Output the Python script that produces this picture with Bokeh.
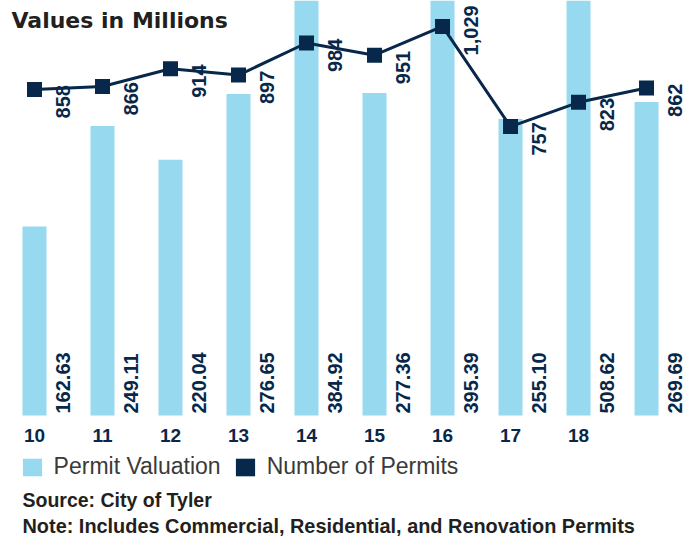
import math
from bokeh.plotting import figure
from bokeh.models import ColumnDataSource, Range1d, Legend, LegendItem, Label
from bokeh.core.properties import value
from bokeh.embed import file_html
from bokeh.resources import INLINE

# ---- data ----
years = [10, 11, 12, 13, 14, 15, 16, 17, 18, 19]
tick_years = [10, 11, 12, 13, 14, 15, 16, 17, 18]
tick_labels = ["10", "11", "12", "13", "14", "15", "16", "17", "18"]
valuation = [162.63, 249.11, 220.04, 276.65, 384.92, 277.36, 395.39, 255.10, 508.62, 269.69]
permits = [858, 866, 914, 897, 984, 951, 1029, 757, 823, 862]

title_text = "Values in Millions"
source_text = "Source: City of Tyler"
note_text = "Note: Includes Commercial, Residential, and Renovation Permits"

NAVY = "#07284a"
BLUE = "#97d9ef"
DARK = "#231f20"

src = ColumnDataSource(dict(
    year=years,
    valuation=valuation,
    permits=permits,
    val_label=[f"{v:.2f}" for v in valuation],
    permit_label=[f"{n:,}" for n in permits],
))
tick_src = ColumnDataSource(dict(year=tick_years, label=tick_labels))

W, H = 699, 537
p = figure(width=W, height=H, output_backend="svg", toolbar_location=None,
           x_axis_location=None, y_axis_location=None,
           x_range=Range1d(9.5, 19.779), y_range=Range1d(-104.95, 357.0),
           min_border_left=0, min_border_right=0, min_border_top=0,
           min_border_bottom=0)
p.extra_y_ranges = {"permits": Range1d(-358.7, 1099.4)}
p.outline_line_color = None
p.xgrid.visible = False
p.ygrid.visible = False
p.background_fill_color = "white"
p.border_fill_color = "white"

# bars (Permit Valuation)
bars = p.vbar(x="year", top="valuation", bottom=0, width=0.353, source=src,
              fill_color=BLUE, line_color=None)

# line (Number of Permits)
p.line("year", "permits", y_range_name="permits", source=src,
       line_width=3, line_color=NAVY)
p.scatter("year", "permits", y_range_name="permits", source=src,
          marker="square", size=15, fill_color=NAVY, line_color=None)

# zero-height bars used only as the legend swatch of the permits series
swatch = p.vbar(x="year", top=0, bottom=0, width=0.353, source=src,
                fill_color=NAVY, line_color=None)

# category labels under the bars
p.text(x="year", y=0, text="label", source=tick_src, y_offset=20,
       text_align="center", text_baseline="alphabetic",
       text_font=value("Liberation Sans"), text_font_style="bold",
       text_font_size="19px", text_color=NAVY)

# valuation labels (rotated, at the foot of each bar)
p.text(x="year", y=0, text="val_label", source=src, angle=math.pi / 2,
       x_offset=28, y_offset=-2, text_align="left", text_baseline="middle",
       text_font=value("Liberation Sans"), text_font_style="bold",
       text_font_size="20px", text_color=NAVY)

# permit count labels (rotated, beside each marker)
p.text(x="year", y="permits", y_range_name="permits", text="permit_label",
       source=src, angle=math.pi / 2, x_offset=28, y_offset=29,
       text_align="left", text_baseline="middle",
       text_font=value("Liberation Sans"), text_font_style="bold",
       text_font_size="20px", text_color=NAVY)

legend = Legend(items=[LegendItem(label="Permit Valuation", renderers=[bars]),
                       LegendItem(label="Number of Permits", renderers=[swatch])],
                orientation="horizontal", location=(19.6, 57),
                glyph_width=24, glyph_height=22, label_height=22,
                label_standoff=10, spacing=12,
                padding=0, margin=0, border_line_color=None,
                background_fill_alpha=0,
                label_text_font="Liberation Sans", label_text_font_size="23px",
                label_text_color="#3a3a3a")
p.add_layout(legend, "center")

p.add_layout(Label(x=11, y=H - 20, x_units="screen", y_units="screen",
                   text=title_text, text_font="DejaVu Sans",
                   text_font_style="bold", text_font_size="22px",
                   text_color=DARK, text_baseline="alphabetic"))
p.add_layout(Label(x=22, y=H - 499, x_units="screen", y_units="screen",
                   text=source_text, text_font="Liberation Sans",
                   text_font_style="bold", text_font_size="19.5px",
                   text_color=DARK, text_baseline="alphabetic"))
p.add_layout(Label(x=22, y=H - 525, x_units="screen", y_units="screen",
                   text=note_text, text_font="Liberation Sans",
                   text_font_style="bold", text_font_size="19.9px",
                   text_color=DARK, text_baseline="alphabetic"))

open("out.html", "w").write(file_html(p, INLINE))
